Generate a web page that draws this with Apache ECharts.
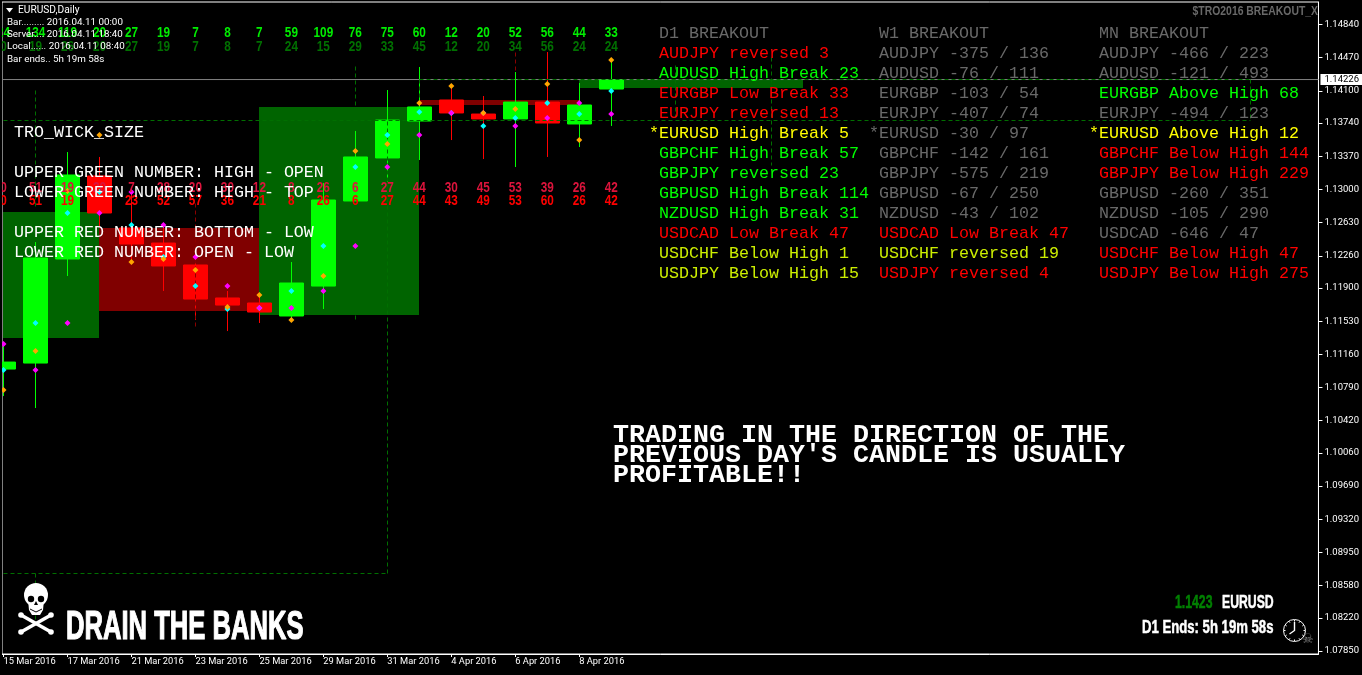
<!DOCTYPE html>
<html><head><meta charset="utf-8">
<style>html,body{margin:0;padding:0;background:#000}#c{width:1362px;height:675px}</style>
<script src="https://cdn.jsdelivr.net/npm/echarts@6/dist/echarts.min.js"></script>
</head><body><div id="c"></div>
<script>
const dateLabels = ['15 Mar 2016','16 Mar 2016','17 Mar 2016','18 Mar 2016','21 Mar 2016','22 Mar 2016','23 Mar 2016','24 Mar 2016','25 Mar 2016','28 Mar 2016','29 Mar 2016','30 Mar 2016','31 Mar 2016','1 Apr 2016','4 Apr 2016','5 Apr 2016','6 Apr 2016','7 Apr 2016','8 Apr 2016','11 Apr 2016'];
const dateTicks = [0,2,4,6,8,10,12,14,16,18];
const priceTicks = [1.1484,1.1447,1.141,1.1374,1.1337,1.13,1.1263,1.1226,1.119,1.1153,1.1116,1.1079,1.1042,1.1006,1.0969,1.0932,1.0895,1.0858,1.0822,1.0785];
const currentPrice = 1.14226;
const opens  = [1.10996,1.11063,1.12224,1.13150,1.12570,1.12402,1.12157,1.11789,1.11733,1.11588,1.11922,1.12871,1.13351,1.13763,1.13998,1.13841,1.13786,1.13975,1.13730,1.14120];
const closes = [1.11074,1.12235,1.13161,1.12737,1.12391,1.12146,1.11777,1.11710,1.11632,1.11956,1.12882,1.13362,1.13774,1.13920,1.13853,1.13786,1.13975,1.13741,1.13942,1.14221];
const lows   = [1.10695,1.10561,1.12034,1.12581,1.12190,1.11867,1.11543,1.11420,1.11510,1.11521,1.11666,1.12871,1.13083,1.13328,1.13551,1.13339,1.13250,1.13362,1.13473,1.13708];
const highs  = [1.11275,1.12413,1.13417,1.13362,1.12971,1.12603,1.12246,1.11867,1.11822,1.12190,1.13072,1.13652,1.14109,1.14366,1.14154,1.14042,1.14310,1.14533,1.14187,1.14444];
const orangeDots  = [1.10762,1.11197,1.12982,1.13607,1.12190,1.12224,1.12101,1.11688,1.11822,1.11543,1.12034,1.13429,1.13507,1.13964,1.14154,1.13853,1.13897,1.14176,1.13551,1.14444];
const cyanDots    = [1.10985,1.11510,1.12737,1.12971,1.12603,1.12246,1.11922,1.11666,1.11677,1.11867,1.12369,1.13250,1.13607,1.13864,1.13853,1.13708,1.13797,1.13964,1.13841,1.14098];
const magentaDots = [1.11275,1.10985,1.11510,1.12737,1.12971,1.12603,1.12246,1.11922,1.11677,1.11677,1.11867,1.12369,1.13250,1.13607,1.13853,1.13853,1.13708,1.13797,1.13964,1.13841];
const greenUpper = [24,134,119,20,27,19,7,8,7,59,109,76,75,60,12,20,52,56,44,33];
const greenLower = [0,19,26,20,27,19,7,8,7,24,15,29,33,45,12,20,34,56,24,24];
const redUpper   = [0,51,19,20,7,28,20,30,12,8,26,6,27,44,30,45,53,39,26,42];
const redLower   = [0,51,19,20,23,52,57,36,21,8,26,6,27,44,43,49,53,60,26,42];
// [bar from, bar to, upper price, lower price, up?]
const rangeBoxes = [[0,3,1.12748,1.11342,1],[3,8,1.12570,1.11643,0],[8,13,1.13920,1.11599,1],[13,18,1.13998,1.13942,0],[18,25,1.14221,1.14132,1]];
// [bar from, price from, bar to, price to, up?]
const dashedLevels = [
 [0,1.13774,39,1.13774,1],[13,1.14221,39,1.14221,1],[39,1.14221,39,1.13774,1],
 [0,1.08720,12,1.08720,1],[12,1.13763,12,1.08720,1],
 [1,1.14109,1,1.12804,1],[1,1.08720,1,1.08174,1],
 [11,1.14366,11,1.13920,1],[11,1.11599,11,1.11521,1],[13,1.14221,13,1.13920,1],
 [21,1.14388,21,1.13797,1],[24,1.14477,24,1.13272,1],
 [6,1.12848,6,1.11432,0],[16,1.14533,16,1.14310,0]
];
const RED='#ff0000',GRN='#00ff00',YEL='#ffff00',LIM='#ccee00',GRY='#696969';
const d1Title='D1 BREAKOUT', w1Title='W1 BREAKOUT', mnTitle='MN BREAKOUT';
const d1Rows=[['AUDJPY reversed 3',RED],['AUDUSD High Break 23',GRN],['EURGBP Low Break 33',RED],['EURJPY reversed 13',RED],['*EURUSD High Break 5',YEL],['GBPCHF High Break 57',GRN],['GBPJPY reversed 23',GRN],['GBPUSD High Break 114',GRN],['NZDUSD High Break 31',GRN],['USDCAD Low Break 47',RED],['USDCHF Below High 1',LIM],['USDJPY Below High 15',LIM]];
const w1Rows=[['AUDJPY -375 / 136',GRY],['AUDUSD -76 / 111',GRY],['EURGBP -103 / 54',GRY],['EURJPY -407 / 74',GRY],['*EURUSD -30 / 97',GRY],['GBPCHF -142 / 161',GRY],['GBPJPY -575 / 219',GRY],['GBPUSD -67 / 250',GRY],['NZDUSD -43 / 102',GRY],['USDCAD Low Break 47',RED],['USDCHF reversed 19',LIM],['USDJPY reversed 4',RED]];
const mnRows=[['AUDJPY -466 / 223',GRY],['AUDUSD -121 / 493',GRY],['EURGBP Above High 68',GRN],['EURJPY -494 / 123',GRY],['*EURUSD Above High 12',YEL],['GBPCHF Below High 144',RED],['GBPJPY Below High 229',RED],['GBPUSD -260 / 351',GRY],['NZDUSD -105 / 290',GRY],['USDCAD -646 / 47',GRY],['USDCHF Below High 47',RED],['USDJPY Below High 275',RED]];
const wickNotes=['TRO_WICK_SIZE','','UPPER GREEN NUMBER: HIGH - OPEN','LOWER GREEN NUMBER: HIGH - TOP','','UPPER RED NUMBER: BOTTOM - LOW','LOWER RED NUMBER: OPEN - LOW'];
const bigNotes=["TRADING IN THE DIRECTION OF THE","PREVIOUS DAY'S CANDLE IS USUALLY","PROFITABLE!!"];
const infoLines=['Bar......... 2016.04.11 00:00','Server.... 2016.04.11 18:40','Local...... 2016.04.11 08:40','Bar ends.. 5h 19m 58s'];

const MONO='"Liberation Mono","Courier New",monospace';
const SANS='"Liberation Sans",sans-serif';
const UI='Roboto,sans-serif';
const chart=echarts.init(document.getElementById('c'),null,{renderer:'canvas'});

function txt(x,y,text,fill,font,sx,heavy,align){
  return {type:'text',z:20,silent:true,x:x,y:y,scaleX:sx||1,scaleY:1,style:Object.assign({text:text,fill:fill,font:font,align:align||'left',verticalAlign:'middle'},heavy?{stroke:fill,lineWidth:heavy}:{})};
}
const shape=(type,sh,st)=>({type:type,z:20,silent:true,shape:sh,style:st});
const g=[];
g.push(shape('rect',{x:0,y:0,width:2,height:660},{fill:'#000'}));g[0].z=19;
g.push(shape('polygon',{points:[[6,8],[13,8],[9.5,12.5]]},{fill:'#fff'}));
g.push(txt(18,10,'EURUSD,Daily','#fff','10.2px '+UI));
[23,35,47,60].forEach((y,i)=>g.push(txt(7,y,infoLines[i],'#fff','9.8px '+UI)));
g.push(txt(1318,11,'$TRO2016 BREAKOUT_X','#696969','bold 13px '+SANS,0.8,0,'right'));
[[659,d1Title,d1Rows],[879,w1Title,w1Rows],[1099,mnTitle,mnRows]].forEach(c=>{
  const f='16.67px '+MONO;
  g.push(txt(c[0],34,c[1],GRY,f));
  c[2].forEach((r,i)=>{
    const star=r[0][0]==='*';
    g.push(txt(c[0]-(star?10:0),54+20*i,r[0],r[1],f));
  });
});
wickNotes.forEach((t,i)=>{ if(t) g.push(txt(14,133+20*i,t,'#fff','16.67px '+MONO)); });
bigNotes.forEach((t,i)=>g.push(txt(613,435+20*i,t,'#fff','bold 26.67px '+MONO)));
// skull and crossbones drawn from shapes
[[21,632,51,615],[21,615,51,632]].forEach(b=>{
  g.push(shape('line',{x1:b[0],y1:b[1],x2:b[2],y2:b[3]},{stroke:'#fff',lineWidth:3.5}));
  g.push(shape('circle',{cx:b[0],cy:b[1],r:2.8},{fill:'#fff'}));
  g.push(shape('circle',{cx:b[2],cy:b[3],r:2.8},{fill:'#fff'}));
});
g.push(shape('circle',{cx:36,cy:595,r:12},{fill:'#fff'}));
g.push(shape('polygon',{points:[[28,600],[44,600],[43,610],[40,615],[32,615],[29,610]]},{fill:'#fff'}));
g.push(shape('circle',{cx:31,cy:599,r:3.2},{fill:'#000'}));
g.push(shape('circle',{cx:41,cy:599,r:3.2},{fill:'#000'}));
g.push(shape('polygon',{points:[[36,601],[34,605],[38,605]]},{fill:'#000'}));
g.push(shape('polyline',{points:[[30,609],[36,612],[42,609]]},{stroke:'#000',fill:'none',lineWidth:1}));
g.push(txt(66,628,'DRAIN THE BANKS','#fff','bold 40px '+SANS,0.64,1.2));
g.push(txt(1175,603,'1.1423','#008000','bold 18px '+SANS,0.68,0.5));
g.push(txt(1222,603,'EURUSD','#fff','bold 18px '+SANS,0.68,0.5));
g.push(txt(1142,628,'D1 Ends: 5h 19m 58s','#fff','bold 18px '+SANS,0.73,0.5));
g.push(shape('circle',{cx:1294.5,cy:630.5,r:11},{fill:'#000',stroke:'#fff',lineWidth:1}));
for(let h=0;h<12;h++){const a=h*Math.PI/6,s=Math.sin(a),o=Math.cos(a);
  g.push(shape('line',{x1:1294.5+s*9,y1:630.5-o*9,x2:1294.5+s*10.5,y2:630.5-o*10.5},{stroke:'#fff',lineWidth:1}));}
g.push(shape('polyline',{points:[[1294.5,622],[1294.5,630.5],[1289.5,634]]},{stroke:'#fff',fill:'none',lineWidth:1.4}));
g.push(txt(1302,640,'\u2620','#808080','13px "DejaVu Sans"'));

const numRow=(vals,y,color)=>({
  type:'custom',z:6,clip:false,silent:true,
  data:vals.map((v,i)=>[i,v]),encode:{x:0},
  renderItem:(p,api)=>({type:'text',x:api.coord([api.value(0),currentPrice])[0],y:y,scaleX:0.76,scaleY:1,
    style:{text:String(api.value(1)),fill:color,font:'bold 15.5px '+SANS,align:'center',verticalAlign:'middle'}})
});
const dots=(vals,color)=>({
  type:'scatter',z:5,symbol:'diamond',symbolSize:6,silent:true,clip:false,
  itemStyle:{color:color,opacity:1},data:vals.map((v,i)=>[i,v])
});
const X_MIN=-0.046875, X_MAX=41.109375;
chart.setOption({
  animation:false,backgroundColor:'#000',
  grid:{left:2,top:2,width:1317,height:652,show:true,backgroundColor:'#000',borderColor:'#fff',borderWidth:1},
  xAxis:{type:'value',min:X_MIN,max:X_MAX,splitLine:{show:false},
    axisLine:{onZero:false,show:true,lineStyle:{color:'#fff'}},
    axisTick:{show:true,length:3,customValues:dateTicks,lineStyle:{color:'#fff'}},
    axisLabel:{customValues:dateTicks,align:'left',margin:3,color:'#fff',fontFamily:'Roboto',fontSize:9.3,
      formatter:v=>dateLabels[Math.round(v)]||''}},
  yAxis:{type:'value',position:'right',min:1.07817,max:1.15091,scale:true,splitLine:{show:false},
    axisLine:{onZero:false,show:true,lineStyle:{color:'#fff'}},
    axisTick:{show:true,length:4,customValues:priceTicks,lineStyle:{color:'#fff'}},
    axisLabel:{customValues:priceTicks,margin:6,color:'#fff',fontFamily:'Roboto',fontSize:9.5,formatter:v=>v.toFixed(5)}},
  tooltip:{show:false},
  graphic:{elements:g},
  series:[
    {type:'custom',z:1,silent:true,data:rangeBoxes,encode:{x:[0,1],y:[2,3]},
     renderItem:(p,api)=>{const a=api.coord([api.value(0),api.value(2)]),b=api.coord([api.value(1),api.value(3)]);
       return {type:'rect',shape:{x:Math.round(a[0]),y:Math.round(a[1]),width:Math.round(b[0]-a[0]),height:Math.round(b[1]-a[1])},style:{fill:api.value(4)?'#006400':'#800000'}};}},
    {type:'candlestick',z:2,barWidth:25,silent:true,
     data:opens.map((o,i)=>[i,o,closes[i],lows[i],highs[i]]),encode:{x:0,y:[1,2,3,4]},
     itemStyle:{color:'#00ff00',color0:'#ff0000',borderColor:'#00ff00',borderColor0:'#ff0000',borderWidth:1}},
    {type:'line',z:2,silent:true,symbol:'none',clip:false,
     data:[[X_MIN,currentPrice],[X_MAX,currentPrice]],
     lineStyle:{color:'#808080',width:1},
     endLabel:{show:true,distance:2,formatter:()=>currentPrice.toFixed(5),color:'#000',backgroundColor:'#fff',
       fontFamily:'Roboto',fontSize:9.5,padding:[0,4,0,4],lineHeight:11}},
    {type:'custom',z:3,silent:true,clip:false,data:dashedLevels,encode:{x:[0,2],y:[1,3]},
     renderItem:(p,api)=>{const a=api.coord([api.value(0),api.value(1)]),b=api.coord([api.value(2),api.value(3)]);
       return {type:'line',shape:{x1:Math.floor(a[0])+.5,y1:Math.floor(a[1])+.5,x2:Math.floor(b[0])+.5,y2:Math.floor(b[1])+.5},
         style:{stroke:api.value(4)?'#006f00':'#8b0000',lineWidth:1,lineDash:[4,3],fill:null}};}},
    dots(cyanDots,'#00ffff'),dots(magentaDots,'#ff00ff'),dots(orangeDots,'#ffa500'),
    numRow(greenUpper,33,'#00ee00'),numRow(greenLower,47,'#007000'),
    numRow(redUpper,188,'#dc143c'),numRow(redLower,201,'#ff0000')
  ]
});
</script></body></html>
